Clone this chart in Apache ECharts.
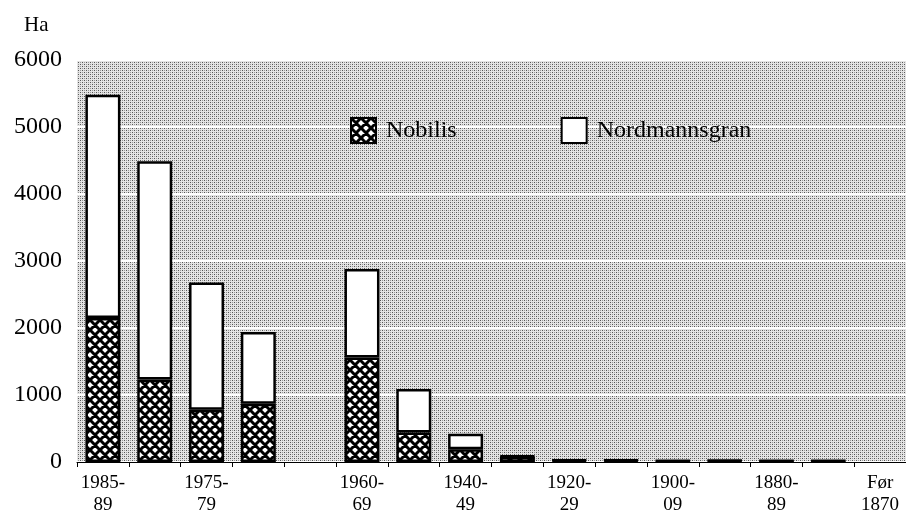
<!DOCTYPE html>
<html>
<head>
<meta charset="utf-8">
<script src="https://cdn.jsdelivr.net/npm/echarts@6/dist/echarts.min.js"></script>
<style>
  html, body { margin: 0; padding: 0; background: #fff; }
  #main { width: 906px; height: 529px; }
</style>
</head>
<body>
<div id="main"></div>
<script>
// categories (periods), newest to oldest
const categories = ['1985-89', '1980-84', '1975-79', '1970-74', '', '1960-69', '1950-59', '1940-49',
  '1930-39', '1920-29', '1910-19', '1900-09', '1890-99', '1880-89', '1870-79', 'Før 1870'];
// labels that are printed under the axis
const tickLabels = ['1985-\n89', '', '1975-\n79', '', '', '1960-\n69', '', '1940-\n49',
  '', '1920-\n29', '', '1900-\n09', '', '1880-\n89', '', 'Før\n1870'];
// area in Ha (null = no bar)
const nobilis = [2150, 1230, 780, 870, null, 1560, 440, 190, 80, 20, 20, 15, 20, 15, 15, null];
const nordmann = [3330, 3260, 1900, 1070, null, 1320, 650, 230, 10, 10, 10, 5, 5, 5, 5, null];
const yTicks = [0, 1000, 2000, 3000, 4000, 5000, 6000];

// cross hatch pattern for Nobilis
function hatch() {
  const n = 10;
  const c = document.createElement('canvas');
  c.width = n; c.height = n;
  const g = c.getContext('2d');
  g.fillStyle = '#fff';
  g.fillRect(0, 0, n, n);
  g.strokeStyle = '#000';
  g.lineWidth = 3;
  g.beginPath();
  for (let k = -n; k <= 2 * n; k += n) {
    g.moveTo(k, 0); g.lineTo(k + n, n);
    g.moveTo(k + n, 0); g.lineTo(k, n);
  }
  g.stroke();
  return c;
}

// dotted grey background
function dots() {
  const c = document.createElement('canvas');
  c.width = 4; c.height = 4;
  const g = c.getContext('2d');
  g.fillStyle = '#e4e4e4';
  g.fillRect(0, 0, 4, 4);
  g.fillStyle = '#555';
  g.fillRect(0, 0, 1, 1);
  g.fillRect(2, 2, 1, 1);
  g.fillStyle = '#999';
  g.fillRect(2, 0, 1, 1);
  g.fillRect(0, 2, 1, 1);
  return c;
}

const font = 'Liberation Serif';
const chart = echarts.init(document.getElementById('main'));

const option = {
  animation: false,
  backgroundColor: '#fff',
  textStyle: { fontFamily: font, color: '#000' },
  title: {
    text: 'Ha', left: 19, top: 10,
    textStyle: { fontFamily: font, fontSize: 21, fontWeight: 'normal', color: '#000' }
  },
  legend: {
    left: 345, top: 112,
    itemWidth: 25, itemHeight: 25, itemGap: 104,
    icon: 'rect',
    textStyle: { fontFamily: font, fontSize: 24, color: '#000', padding: [0, 0, 0, 5] },
    data: ['Nobilis', 'Nordmannsgran']
  },
  grid: {
    left: 77, right: 0, top: 60, bottom: 67,
    show: true,
    borderWidth: 0,
    backgroundColor: { image: dots(), repeat: 'repeat' }
  },
  xAxis: {
    type: 'category',
    data: categories,
    axisLine: { show: true, lineStyle: { color: '#000', width: 1 } },
    axisTick: { show: true, length: 5, lineStyle: { color: '#000' } },
    axisLabel: {
      interval: 0, margin: 10,
      fontFamily: font, fontSize: 19, lineHeight: 22, color: '#000',
      formatter: (v, i) => tickLabels[i]
    }
  },
  yAxis: {
    type: 'value',
    min: 0, max: 6000, interval: 1000,
    axisLine: { show: false },
    axisTick: { show: false },
    axisLabel: {
      margin: 15, fontFamily: font, fontSize: 24, color: '#000',
      formatter: v => (yTicks.indexOf(v) >= 0 ? String(v) : '')
    },
    splitLine: { show: true, lineStyle: { color: '#fff', width: 2 } }
  },
  series: [
    {
      name: 'Nobilis',
      type: 'bar',
      stack: 'ha',
      barWidth: 35,
      data: nobilis,
      itemStyle: { color: { image: hatch(), repeat: 'repeat' }, borderColor: '#000', borderWidth: 2.5 }
    },
    {
      name: 'Nordmannsgran',
      type: 'bar',
      stack: 'ha',
      barWidth: 35,
      data: nordmann,
      itemStyle: { color: '#fff', borderColor: '#000', borderWidth: 2.5 }
    }
  ]
};

chart.setOption(option);
</script>
</body>
</html>
